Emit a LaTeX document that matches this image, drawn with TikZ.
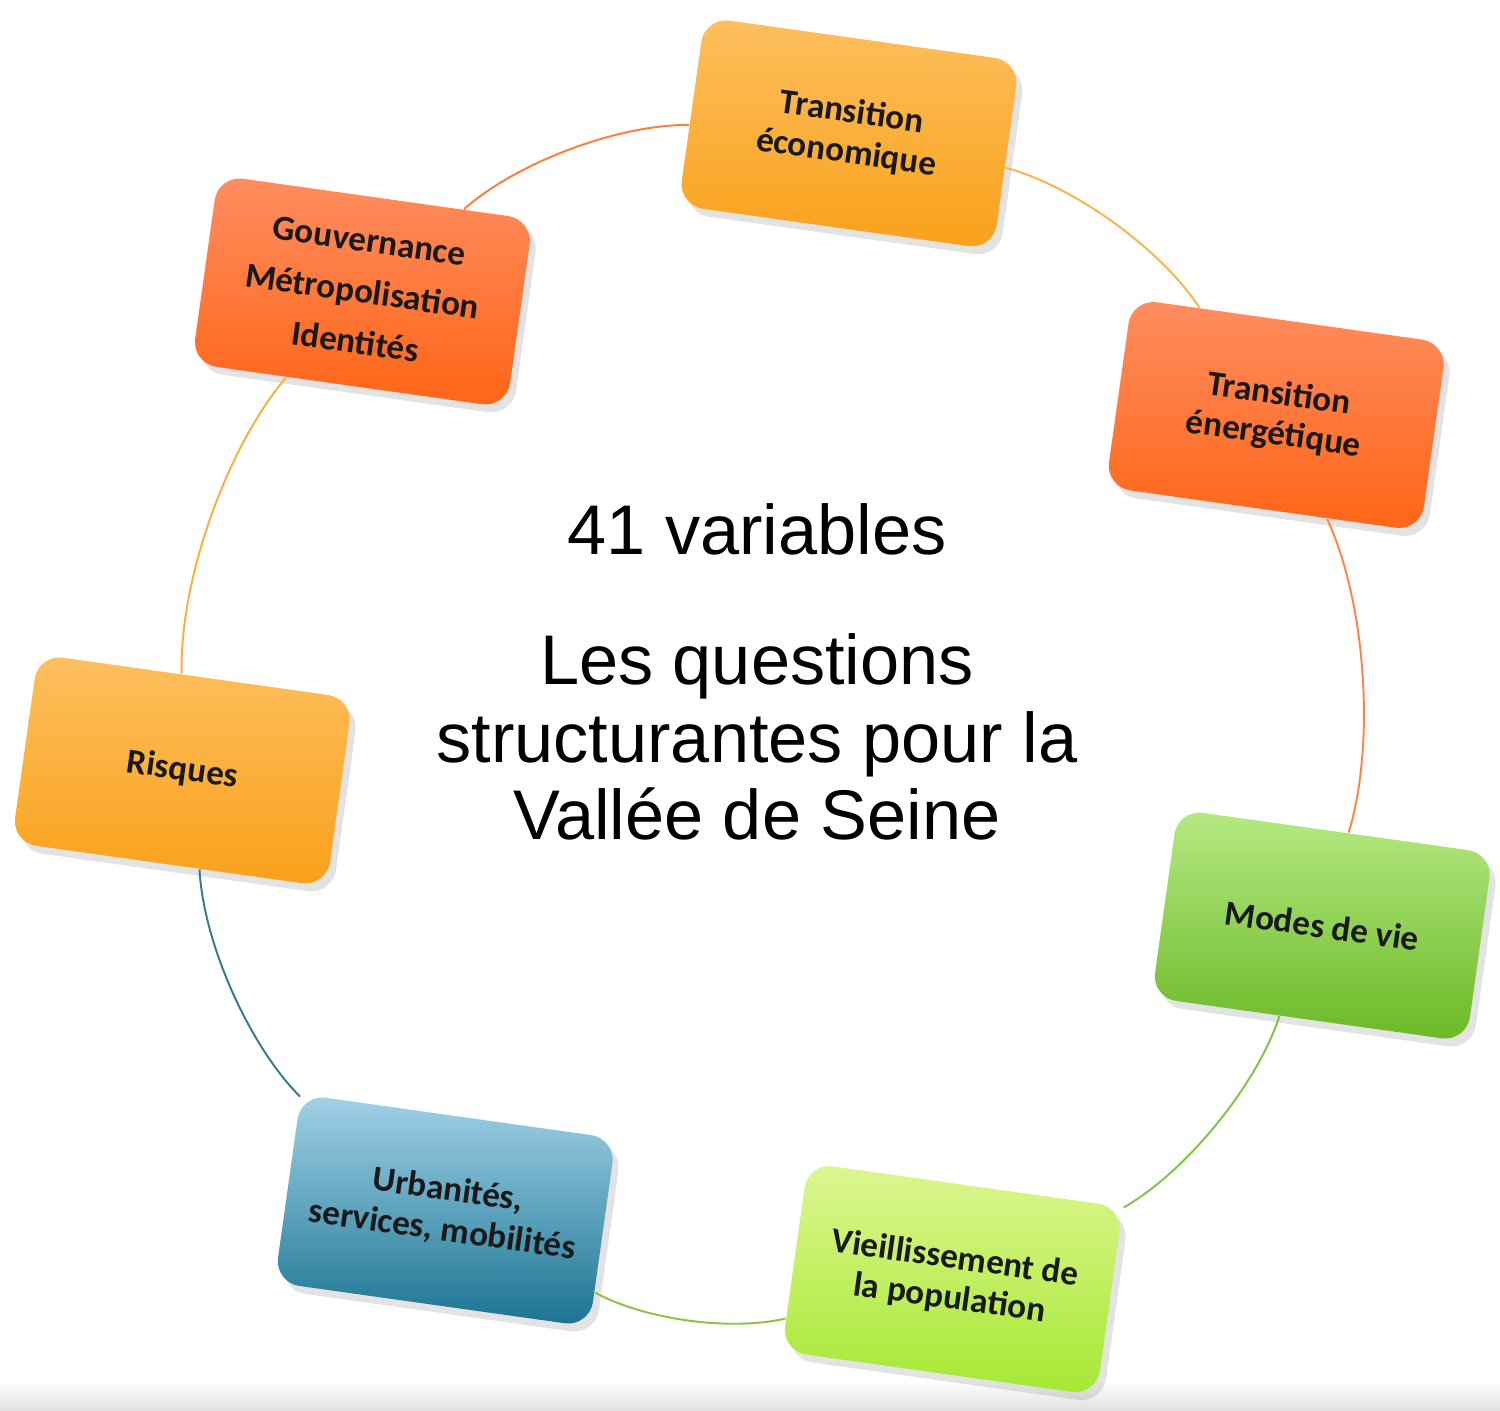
\documentclass[tikz,border=0pt]{standalone}
\usepackage{fontspec}
\setmainfont{Carlito}
\newfontfamily\titlefont{Liberation Sans}
\usepackage{tikz}
\usetikzlibrary{shadows}
\usetikzlibrary{positioning}

\definecolor{ambtop}{HTML}{FDBF5E}
\definecolor{ambbot}{HTML}{F9A11A}
\definecolor{orgtop}{HTML}{FF8D60}
\definecolor{orgbot}{HTML}{FF6516}
\definecolor{grntop}{HTML}{B6EA84}
\definecolor{grnbot}{HTML}{6BB826}
\definecolor{limtop}{HTML}{DDF690}
\definecolor{limbot}{HTML}{A5E833}
\definecolor{blutop}{HTML}{A2D2E8}
\definecolor{blubot}{HTML}{1A7392}

\tikzstyle{theme}=[rectangle, rounded corners=0.25cm, rotate=-8,
  minimum width=3.18cm, minimum height=1.9cm, align=center,
  font=\bfseries\fontsize{10}{11.5}\selectfont, text=black!90,
  drop shadow={opacity=0.22, shadow xshift=0.06cm, shadow yshift=-0.08cm}]
\tikzstyle{ambre}=[theme, top color=ambtop, bottom color=ambbot]
\tikzstyle{orange}=[theme, top color=orgtop, bottom color=orgbot]
\tikzstyle{vert}=[theme, top color=grntop, bottom color=grnbot]
\tikzstyle{citron}=[theme, top color=limtop, bottom color=limbot]
\tikzstyle{bleu}=[theme, top color=blutop, bottom color=blubot]
\tikzstyle{cycle}=[line width=0.55pt, bend left=21, looseness=0.75]

\begin{document}
\begin{tikzpicture}
\useasboundingbox (-7.70,-6.93) rectangle (7.30,7.18);

% bande grise du bas
\shade[top color=white, bottom color=black!12, draw=none]
  (-7.70,-6.62) rectangle (7.30,-6.93);

\node[ambre] (transeco) at (82.3:5.9) {Transition\\économique};
\node[orange] (transener) at (30.9:5.9) {Transition\\énergétique};
\node[vert] (modesvie) at (-20.6:5.9) {Modes de vie};
\node[citron] (vieillissement) at (-72.0:5.9)
  {Vieillissement de\\la population};
\node[bleu] (urbanites) at (-123.4:5.9)
  {Urbanités,\\services, mobilités};
\node[ambre] (risques) at (-174.9:5.9) {Risques};
\node[orange] (gouvernance) at (133.7:5.9)
  {Gouvernance\\[3pt]Métropolisation\\[3pt]Identités};

\node[font=\titlefont\fontsize{20}{22}\selectfont, align=center] (titre)
  at (-0.13,0.46) {41 variables\\[15pt]Les questions\\structurantes pour la\\Vallée de Seine};

% arcs du cycle
\draw[cycle, ambbot!80] (transeco) to (transener);
\draw[cycle, orgbot!80] (transener) to (modesvie);
\draw[cycle, grnbot!85] (modesvie) to (vieillissement);
\draw[cycle, limbot!80!black!90] (vieillissement) to (urbanites);
\draw[cycle, blubot!70!gray] (urbanites) to (risques);
\draw[cycle, ambbot!85] (risques) to (gouvernance);
\draw[cycle, orgbot!85] (gouvernance) to (transeco);

\end{tikzpicture}
\end{document}
